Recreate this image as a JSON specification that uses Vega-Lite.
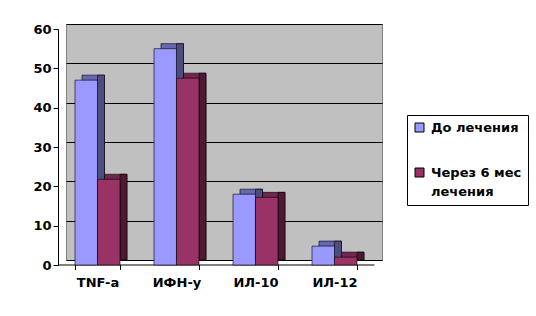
{
  "$schema": "https://vega.github.io/schema/vega-lite/v6.json",
  "width": 316,
  "height": 236,
  "autosize": "none",
  "padding": {"left": 66, "top": 24, "right": 154, "bottom": 56},
  "background": "white",
  "config": {
    "view": {"fill": "#c0c0c0", "stroke": "#808080"},
    "font": "DejaVu Sans",
    "style": {"guide-label": {"lineHeight": 19}},
    "axis": {"labelFont": "DejaVu Sans", "labelFontWeight": "bold", "labelFontSize": 13, "labelColor": "black", "domainColor": "black", "tickColor": "black", "title": null}
  },
  "data": {"values": [
    {"cat": "TNF-a", "series": "До лечения", "value": 47},
    {"cat": "TNF-a", "series": "Через 6 мес лечения", "value": 21.8},
    {"cat": "ИФН-у", "series": "До лечения", "value": 55},
    {"cat": "ИФН-у", "series": "Через 6 мес лечения", "value": 47.5},
    {"cat": "ИЛ-10", "series": "До лечения", "value": 18},
    {"cat": "ИЛ-10", "series": "Через 6 мес лечения", "value": 17.2},
    {"cat": "ИЛ-12", "series": "До лечения", "value": 4.8},
    {"cat": "ИЛ-12", "series": "Через 6 мес лечения", "value": 2}
  ]},
  "encoding": {
    "x": {"field": "cat", "type": "nominal", "sort": null,
      "scale": {"paddingInner": 0.43, "paddingOuter": 0.215},
      "axis": {"labelAngle": 0, "tickBand": "extent", "tickSize": 5, "labelPadding": 7, "labelBaseline": "top", "domainColor": "black", "translate": -7.5, "offset": 12.5}}
  },
  "layer": [
    {
      "mark": {"type": "bar", "stroke": "black", "strokeWidth": 0.6},
      "encoding": {
        "y": {"field": "value", "type": "quantitative",
          "scale": {"domain": [0, 60], "nice": false},
          "axis": {"orient": "left", "values": [0, 10, 20, 30, 40, 50, 60], "grid": true, "gridColor": "black", "gridWidth": 1, "gridOpacity": 1, "labels": false, "ticks": false, "domain": false}},
        "xOffset": {"field": "series", "type": "nominal", "sort": null, "scale": {"range": [-1, 44], "paddingInner": 0, "paddingOuter": 0}},
        "color": {"field": "series", "type": "nominal", "sort": null, "scale": {"range": ["#6666b3", "#73264d"]}, "legend": null}}
    },
    {
      "mark": {"type": "bar", "width": 7, "stroke": "black", "strokeWidth": 0.6},
      "encoding": {
        "y": {"field": "value", "type": "quantitative", "axis": null},
        "xOffset": {"field": "series", "type": "nominal", "sort": null, "scale": {"range": [6.75, 51.75], "paddingInner": 0, "paddingOuter": 0}},
        "color": {"field": "series", "type": "nominal", "sort": null, "scale": {"range": ["#4d4d80", "#4d1933"]}, "legend": null}}
    },
    {
      "mark": {"type": "bar", "yOffset": 5, "stroke": "black", "strokeWidth": 0.6},
      "encoding": {
        "y": {"field": "value", "type": "quantitative",
          "axis": {"orient": "left", "values": [0, 10, 20, 30, 40, 50, 60], "grid": false, "tickSize": 5, "labelPadding": 2, "translate": 5.5, "offset": 13}},
        "xOffset": {"field": "series", "type": "nominal", "sort": null, "scale": {"range": [-8, 37], "paddingInner": 0, "paddingOuter": 0}},
        "color": {"field": "series", "type": "nominal", "sort": null,
        "scale": {"range": ["#9999ff", "#993366"]},
        "legend": {"title": null, "orient": "none", "legendX": 341, "legendY": 91,
          "symbolType": "square", "symbolSize": 81, "symbolStrokeColor": "black", "symbolStrokeWidth": 1, "symbolOpacity": 1,
          "labelFont": "DejaVu Sans", "labelFontWeight": "bold", "labelFontSize": 13, "labelColor": "black", "labelOffset": 5, "labelLimit": 200,
          "labelExpr": "datum.label == 'Через 6 мес лечения' ? ['Через 6 мес', 'лечения'] : datum.label",
          "rowPadding": 31, "padding": 6, "strokeColor": "black", "fillColor": "white"}}}
    }
  ],
  "resolve": {"scale": {"color": "independent", "xOffset": "independent"}, "axis": {"y": "independent"}}
}
